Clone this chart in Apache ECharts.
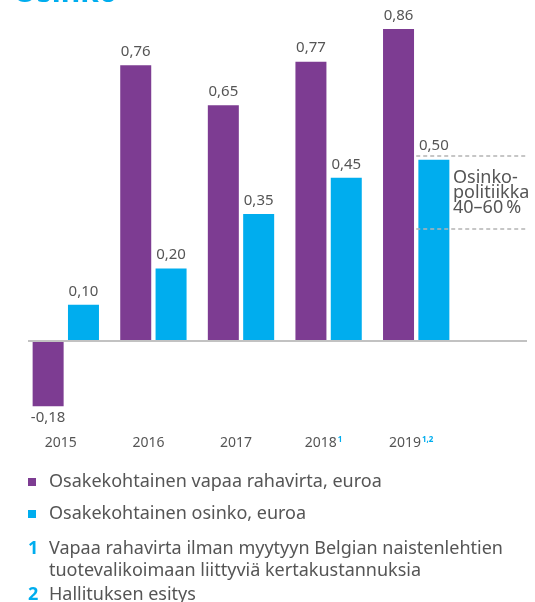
<!DOCTYPE html>
<html>
<head>
<meta charset="utf-8">
<script src="https://cdn.jsdelivr.net/npm/echarts@6/dist/echarts.min.js"></script>
<style>
    html, body {margin: 0; padding: 0; background: #fff;}
    #myBigChart {width: 535px; height: 602px;}
</style>
</head>
<body>
<div id="myBigChart"></div>
<script>
var years = ['2015', '2016', '2017', '2018', '2019'];
var yearNotes = ['', '', '', '1', '1,2'];
var freeCashFlow = [-0.18, 0.76, 0.65, 0.77, 0.86];
var dividend = [0.10, 0.20, 0.35, 0.45, 0.50];
var policyBand = [0.31, 0.51];
var seriesNames = ['Osakekohtainen vapaa rahavirta, euroa', 'Osakekohtainen osinko, euroa'];

var purple = '#7d3c92';
var blue = '#00adee';
var textGray = '#555';
var fontName = 'Noto Sans';

function fiNum(v) {
    return v.toFixed(2).replace('.', ',');
}

// negatiivinen arvo -> label alapuolelle
function barData(arr) {
    return arr.map(function (v) {
        return {value: v, label: {position: v < 0 ? 'bottom' : 'top', distance: v < 0 ? 4 : 6}};
    });
}

var myChart = echarts.init(document.getElementById('myBigChart'), null, {renderer: 'canvas'});

var option = {
    animation: false,
    textStyle: {fontFamily: fontName},
    title: {
        text: 'Osinko',
        left: 8,
        top: -27,
        textStyle: {color: blue, fontSize: 30, fontWeight: 'bold', fontFamily: fontName}
    },
    legend: {
        orient: 'vertical',
        left: 23,
        top: 467,
        itemWidth: 8,
        itemHeight: 8,
        itemGap: 12,
        icon: 'rect',
        data: seriesNames,
        textStyle: {color: textGray, fontSize: 18, lineHeight: 20, padding: [0, 0, 0, 8]}
    },
    grid: [
        {left: 22, right: 75, top: 14.5, bottom: 188.4},
        {left: 28, right: 8, top: 14.5, bottom: 188.4}
    ],
    xAxis: [{
        type: 'category',
        gridIndex: 0,
        data: years,
        axisLine: {show: false},
        axisTick: {show: false},
        axisLabel: {
            interval: 0,
            margin: 22,
            color: textGray,
            fontSize: 14,
            padding: [0, 10, 0, 0],
            formatter: function (v, i) {
                return yearNotes[i] ? v + '{sup|' + yearNotes[i] + '}' : v;
            },
            rich: {
                sup: {fontSize: 8, fontWeight: 'bold', color: blue, verticalAlign: 'top', padding: [0, 0, 6, 1]}
            }
        }
    }, {
        type: 'value',
        gridIndex: 1,
        min: 0,
        max: 1,
        show: false
    }],
    yAxis: [{
        type: 'value',
        gridIndex: 0,
        min: -0.2,
        max: 0.9,
        show: false
    }, {
        type: 'value',
        gridIndex: 1,
        min: -0.2,
        max: 0.9,
        show: false
    }],
    series: [{
        name: seriesNames[0],
        type: 'bar',
        xAxisIndex: 0,
        yAxisIndex: 0,
        barWidth: 31,
        barGap: '14%',
        itemStyle: {color: purple},
        label: {show: true, color: textGray, fontSize: 15, formatter: function (p) { return fiNum(p.value); }},
        data: barData(freeCashFlow)
    }, {
        name: seriesNames[1],
        type: 'bar',
        xAxisIndex: 0,
        yAxisIndex: 0,
        barWidth: 31,
        itemStyle: {color: blue},
        label: {show: true, color: textGray, fontSize: 15, formatter: function (p) { return fiNum(p.value); }},
        data: barData(dividend)
    }, {
        // nollaviiva
        type: 'line',
        xAxisIndex: 1,
        yAxisIndex: 1,
        symbol: 'none',
        silent: true,
        z: 5,
        lineStyle: {color: '#c2c2c2', width: 2},
        data: [[0, 0], [1, 0]]
    }, {
        // osinkopolitiikan katkoviivat
        type: 'line',
        xAxisIndex: 1,
        yAxisIndex: 1,
        symbol: 'none',
        silent: true,
        data: [],
        markLine: {
            symbol: 'none',
            silent: true,
            label: {show: false},
            lineStyle: {color: '#b4b4b4', type: [4, 3], width: 1.5},
            data: policyBand.map(function (b) {
                return [{coord: [0.778, b]}, {coord: [1, b]}];
            })
        }
    }],
    graphic: [
        {type: 'text', left: 453, top: 169, style: {text: 'Osinko-\npolitiikka\n40–60\u2009%', fill: textGray, fontSize: 18, lineHeight: 15, fontFamily: fontName}},
        {type: 'text', left: 28, top: 538, style: {text: '1', fill: blue, fontSize: 18, fontWeight: 'bold', lineHeight: 22, fontFamily: fontName}},
        {type: 'text', left: 49, top: 538, style: {text: 'Vapaa rahavirta ilman myytyyn Belgian naistenlehtien\ntuotevalikoimaan liittyviä kertakustannuksia', fill: textGray, fontSize: 18, lineHeight: 22, fontFamily: fontName}},
        {type: 'text', left: 28, top: 584, style: {text: '2', fill: blue, fontSize: 18, fontWeight: 'bold', lineHeight: 22, fontFamily: fontName}},
        {type: 'text', left: 49, top: 584, style: {text: 'Hallituksen esitys', fill: textGray, fontSize: 18, lineHeight: 22, fontFamily: fontName}}
    ]
};
myChart.setOption(option);
</script>
</body>
</html>
